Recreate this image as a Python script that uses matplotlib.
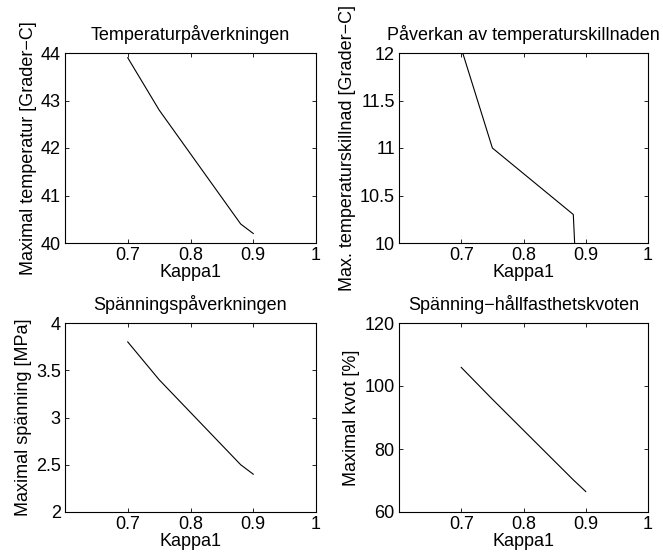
import matplotlib
matplotlib.use('Agg')
import matplotlib.pyplot as plt

plt.rcParams['font.family'] = ['Liberation Sans', 'DejaVu Sans']
plt.rcParams['axes.unicode_minus'] = True

kappa_temp = [0.7, 0.75, 0.88, 0.9]
max_temp = [43.9, 42.8, 40.4, 40.2]

kappa_diff = [0.7, 0.75, 0.88, 0.9]
max_diff = [12.05, 11.0, 10.3, 7.5]

kappa_stress = [0.7, 0.75, 0.88, 0.9]
max_stress = [3.8, 3.4, 2.5, 2.4]

kappa_ratio = [0.7, 0.75, 0.88, 0.9]
max_ratio = [105.9, 95.8, 70.2, 66.5]

xticks = [0.7, 0.8, 0.9, 1.0]
xticklabels = ['0.7', '0.8', '0.9', '1']

W, H = 663, 559
fig = plt.figure(figsize=(W / 100, H / 100), dpi=100)


def make_axes(l, r, t, b):
    return fig.add_axes([l / W, 1 - b / H, (r - l) / W, (b - t) / H])


panels = [
    (make_axes(65, 316, 53, 243), kappa_temp, max_temp, (40, 44), [40, 41, 42, 43, 44],
     ['40', '41', '42', '43', '44'], 'Temperaturpåverkningen', 'Maximal temperatur [Grader\u2212C]'),
    (make_axes(399, 648, 53, 243), kappa_diff, max_diff, (10, 12), [10, 10.5, 11, 11.5, 12],
     ['10', '10.5', '11', '11.5', '12'], 'Påverkan av temperaturskillnaden',
     'Max. temperaturskillnad [Grader\u2212C]'),
    (make_axes(65, 316, 323, 512), kappa_stress, max_stress, (2, 4), [2, 2.5, 3, 3.5, 4],
     ['2', '2.5', '3', '3.5', '4'], 'Spänningspåverkningen', 'Maximal spänning [MPa]'),
    (make_axes(399, 648, 323, 512), kappa_ratio, max_ratio, (60, 120), [60, 80, 100, 120],
     ['60', '80', '100', '120'], 'Spänning\u2212hållfasthetskvoten', 'Maximal kvot [%]'),
]

for ax, x, y, ylim, yt, ytl, title, ylabel in panels:
    ax.plot(x, y, color='black', linewidth=0.8)
    ax.set_xlim(0.6, 1.0)
    ax.set_ylim(*ylim)
    ax.set_xticks(xticks)
    ax.set_xticklabels(xticklabels)
    ax.set_yticks(yt)
    ax.set_yticklabels(ytl)
    ax.tick_params(direction='in', length=3, width=0.6, top=True, right=True,
                   labelsize=13, pad=3)
    for s in ax.spines.values():
        s.set_linewidth(0.8)
    ax.set_title(title, fontsize=13, pad=9)
    ax.set_xlabel('Kappa1', fontsize=13, labelpad=0)
    ax.set_ylabel(ylabel, fontsize=13, labelpad=3)

fig.savefig('out.png', dpi=100)
